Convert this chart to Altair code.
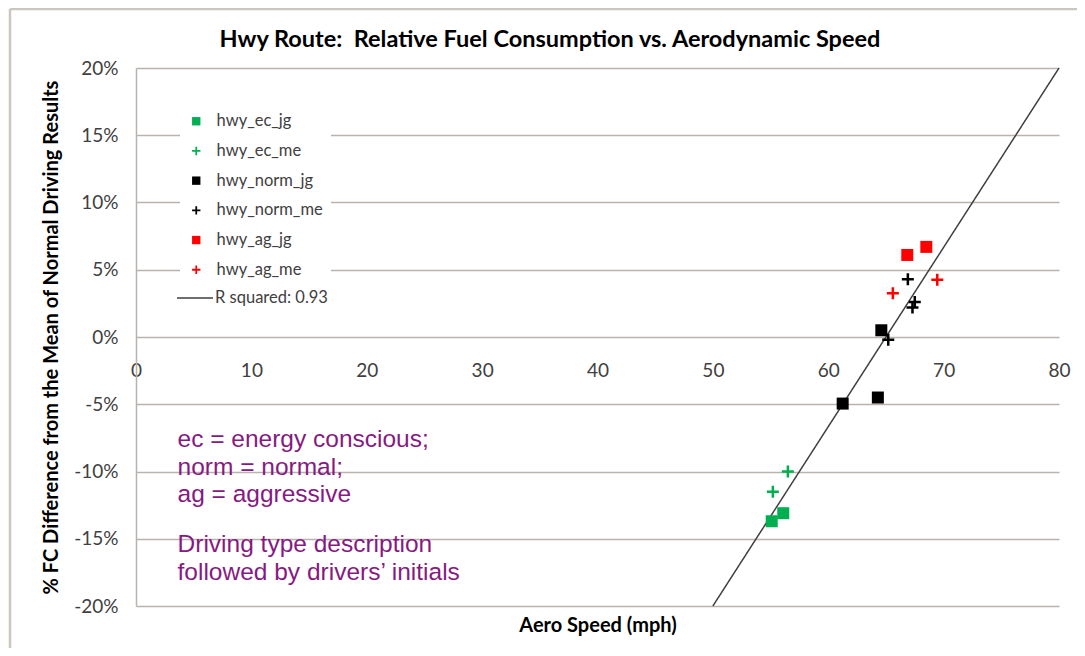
import altair as alt
import pandas as pd

# ---- data ----
series_names = ["hwy_ec_jg", "hwy_ec_me", "hwy_norm_jg", "hwy_norm_me", "hwy_ag_jg", "hwy_ag_me"]
series_colors = ["#00b050", "#00b050", "#000000", "#000000", "#ff0000", "#ff0000"]

ec_jg_x = [55.1, 56.1]
ec_jg_y = [-0.137, -0.131]
ec_me_x = [56.5, 55.2]
ec_me_y = [-0.100, -0.115]
norm_jg_x = [64.6, 64.3, 61.25]
norm_jg_y = [0.005, -0.045, -0.0495]
norm_me_x = [66.9, 67.5, 67.3, 65.2]
norm_me_y = [0.043, 0.026, 0.022, -0.002]
ag_jg_x = [66.85, 68.5]
ag_jg_y = [0.061, 0.067]
ag_me_x = [65.6, 69.45]
ag_me_y = [0.0325, 0.0425]

fit_label = "R squared: 0.93"
fit_x = [50, 80]
fit_y = [-0.20, 0.20]

x_ticks = [0, 10, 20, 30, 40, 50, 60, 70, 80]
y_ticks = [-0.20, -0.15, -0.10, -0.05, 0.0, 0.05, 0.10, 0.15, 0.20]

title_text = "Hwy Route:\u00a0 Relative Fuel Consumption vs. Aerodynamic Speed"
x_title = "Aero Speed (mph)"
y_title = "% FC Difference from the Mean of Normal Driving Results"

note_text = ["ec = energy conscious;\nnorm = normal;\nag = aggressive",
             "Driving type description\nfollowed by drivers\u2019 initials"]
note_x = [3.6, 3.6]
note_y = [-0.068, -0.146]

# ---- tables ----
xs = [ec_jg_x, ec_me_x, norm_jg_x, norm_me_x, ag_jg_x, ag_me_x]
ys = [ec_jg_y, ec_me_y, norm_jg_y, norm_me_y, ag_jg_y, ag_me_y]
rows = []
for name, sx, sy in zip(series_names, xs, ys):
    for a, b in zip(sx, sy):
        rows.append({"series": name, "speed": a, "fc": b})
pts = pd.DataFrame(rows)
fit = pd.DataFrame({"speed": fit_x, "fc": fit_y, "label": [fit_label] * len(fit_x)})
notes = pd.DataFrame({"speed": note_x, "fc": note_y, "txt": note_text})

GRID = "#b8b4ad"
PLUS = "M-1,-0.21H1V0.21H-1Z M-0.21,-1H0.21V1H-0.21Z"
shapes = ["square", PLUS, "square", PLUS, "square", PLUS]

W, H = 923, 538

xenc = alt.X("speed:Q", scale=alt.Scale(domain=[0, 80], nice=False, zero=False),
             axis=alt.Axis(values=x_ticks, grid=False, ticks=False, domain=False,
                           offset=-H / 2, labelPadding=24, labelFont="Lato",
                           labelFontSize=19, labelColor="#404040", labelFlush=False,
                           title=x_title, titleFont="Lato", titleFontSize=20,
                           titleFontWeight="bold", titleColor="#000000",
                           titleY=288, titleBaseline="middle"))
yenc = alt.Y("fc:Q", scale=alt.Scale(domain=[-0.2, 0.2], nice=False),
             axis=alt.Axis(values=y_ticks,
                           labelExpr="round(datum.value*100) + '%'",
                           ticks=False, labelPadding=18, labelFont="Lato",
                           labelFontSize=19, labelColor="#404040",
                           domainColor=GRID, domainWidth=1.5,
                           grid=True, gridColor=GRID, gridWidth=1.5,
                           title=y_title, titleFont="Lato", titleFontSize=20,
                           titleFontWeight="bold", titleColor="#000000",
                           titlePadding=12))

leg = alt.Legend(title=None, orient="none", legendX=44, legendY=37,
                 labelFont="Lato", labelFontSize=16.5, labelColor="#404040",
                 symbolSize=70, rowPadding=12.7, labelOffset=12, padding=8,
                 fillColor="white", symbolStrokeWidth=0)

points = alt.Chart(pts).mark_point(filled=True, size=144, opacity=1, strokeWidth=0).encode(
    x=xenc, y=yenc,
    color=alt.Color("series:N", scale=alt.Scale(domain=series_names, range=series_colors), legend=leg),
    shape=alt.Shape("series:N", scale=alt.Scale(domain=series_names, range=shapes), legend=leg),
)

line = alt.Chart(fit).mark_line(color="#404040", strokeWidth=1.5).encode(
    x=xenc, y=yenc,
    strokeDash=alt.StrokeDash("label:N", scale=alt.Scale(domain=[fit_label], range=[[1, 0]]),
                              legend=alt.Legend(title=None, orient="none", legendX=40, legendY=211,
                                                symbolType="stroke", symbolSize=1296,
                                                symbolStrokeColor="#404040", symbolStrokeWidth=1.5,
                                                labelFont="Lato", labelFontSize=16.5, labelColor="#404040",
                                                labelOffset=1, padding=0, fillColor="white")),
)

note = alt.Chart(notes).mark_text(align="left", baseline="top", lineBreak="\n", lineHeight=27.5,
                                  font="Liberation Sans", fontSize=24.5, color="#861a82").encode(
    x=xenc, y=yenc, text="txt:N")

one = pd.DataFrame({"t": [title_text]})
title = alt.Chart(one).mark_text(font="Lato", fontSize=23.5, fontWeight="bold", color="#000000",
                                 align="center", baseline="middle").encode(
    x=alt.value(414), y=alt.value(-28), text="t:N")

frame_left = alt.Chart(one).mark_rule(color="#cbc7c0", strokeWidth=2.5).encode(
    x=alt.value(-126), y=alt.value(-59), y2=alt.value(600))
frame_top = alt.Chart(one).mark_rule(color="#cbc7c0", strokeWidth=2.5).encode(
    x=alt.value(-126), x2=alt.value(960), y=alt.value(-59))

chart = alt.layer(frame_left, frame_top, line, points, note, title).properties(
    width=W, height=H,
    autosize=alt.AutoSizeParams(type="none"),
    padding={"left": 128, "top": 60, "right": 18, "bottom": 42},
).configure_view(stroke=None).resolve_legend(strokeDash="independent")

chart.save("out.html", embed_options={"renderer": "svg", "actions": False})
